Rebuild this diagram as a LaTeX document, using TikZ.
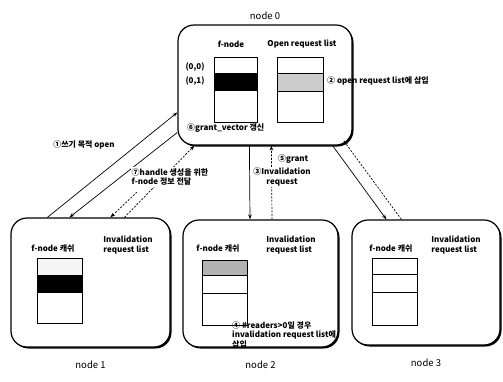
\documentclass[tikz,border=0pt]{standalone}
\usepackage{fontspec}
\setmainfont{Noto Sans CJK KR}
\usetikzlibrary{arrows.meta,positioning,shadows}

\begin{document}
\begin{tikzpicture}[x=1pt,y=-1pt,
            box/.style={draw, line width=1.2pt, rounded corners=16pt, fill=white,
                        inner sep=0pt,
                        drop shadow={shadow xshift=1.5pt, shadow yshift=-1.5pt,
                                     fill=black, opacity=1}},
            tbl/.style={draw, line width=0.7pt},
            txt/.style={font=\fontsize{8}{9.5}\selectfont\bfseries, inner sep=1pt},
            lbl/.style={font=\fontsize{9.5}{11}\selectfont, inner sep=1pt},
            arr/.style={-{Stealth[length=5pt,width=3.5pt]}, line width=0.7pt},
            darr/.style={arr, dash pattern=on 2pt off 1.5pt}
          ]
            \useasboundingbox (0,0) rectangle (503,381);
            % the four machines
            \node[box, minimum width=174pt, minimum height=120pt] (n0) at (265,85) {};
            \node[box, minimum width=159pt, minimum height=129pt] (n1) at (90.5,282.5) {};
            \node[box, minimum width=155pt, minimum height=127pt] (n2) at (260.5,283.5) {};
            \node[box, minimum width=148pt, minimum height=125pt] (n3) at (426,282.5) {};
            \node[lbl, above=4pt of n0] (l0) {node 0};
            \node[lbl, below=12pt of n1] (l1) {node 1};
            \node[lbl, below=12pt of n2] (l2) {node 2};
            \node[lbl, below=12pt of n3] (l3) {node 3};

            % node 0 : f-node and open request list
            \node[txt] (f0) at (231,44) {f-node};
            \node[txt] (o0) at (302,44) {Open request list};
            \node[txt] (c00) at (195,67) {(0,0)};
            \node[txt] (c01) at (195,81) {(0,1)};
            \draw[tbl] (214,57) rectangle (257,122);
            \fill (214,73) rectangle (257,91);
            \draw[tbl] (277,57) rectangle (323,122);
            \filldraw[tbl, fill=gray!40] (277,73) rectangle (323,91);
            \node[txt, anchor=west] (s2) at (326,81) {② open request list에 삽입};
            \node[txt, anchor=west] (s6) at (186,128) {⑥grant\_vector 갱신};

            % node 1
            \node[txt] (f1) at (53,248) {f-node 캐쉬};
            \node[txt, align=left] (i1) at (128,245) {Invalidation\\request list};
            \filldraw[tbl, fill=gray!8] (37,258) rectangle (82,275);
            \fill (37,275) rectangle (82,293);
            \draw[tbl] (37,258) rectangle (82,323);

            % node 2
            \node[txt] (f2) at (218,248) {f-node 캐쉬};
            \node[txt, align=left] (i2) at (291,245) {Invalidation\\request list};
            \filldraw[tbl, fill=gray!60] (202,260) rectangle (247,275);
            \draw[tbl] (202,260) rectangle (247,325) (202,293) -- (247,293);
            \node[txt, align=left, anchor=north west] (s4) at (231,320)
                 {④ \#readers>0일 경우\\invalidation request list에\\삽입};

            % node 3
            \node[txt] (f3) at (391,248) {f-node 캐쉬};
            \node[txt, align=left] (i3) at (456,245) {Invalidation\\request list};
            \draw[tbl] (372,258) rectangle (417,325)
                 (372,274) -- (417,274) (372,292) -- (417,292);

            % messages
            \coordinate (d7) at (137,192);
            \draw[arr] ([xshift=37pt]n1.north west) -- ([yshift=-88pt]n0.north west);
            \draw[arr] ([yshift=-108pt]n0.north west) -- ([xshift=59pt]n1.north west);
            \draw[darr] ([xshift=114pt]n1.north west) -- ([xshift=17pt]n0.south west);
            \draw[darr] (d7) -- ([xshift=100pt]n1.north west);
            \draw[arr] ([xshift=72pt]n0.south west) -- ([xshift=-10.5pt]n2.north);
            \draw[darr] ([xshift=11.5pt]n2.north) -- ([xshift=94pt]n0.south west);
            \draw[arr] ([xshift=-20pt]n0.south east) -- ([xshift=35pt]n3.north west);
            \draw[darr] ([xshift=50pt]n3.north west) -- ([xshift=-9pt,yshift=5pt]n0.south east);

            \node[txt] (s1) at (84,145) {①쓰기 목적 open};
            \node[txt, align=left, fill=white] (s7) at (170,177) {⑦handle 생성을 위한\\f-node 정보 전달};
            \node[txt, anchor=west] (s5) at (277,159) {⑤grant};
            \node[txt, align=center, fill=white] (s3) at (282,177) {③Invalidation\\request};
          \end{tikzpicture}
\end{document}
